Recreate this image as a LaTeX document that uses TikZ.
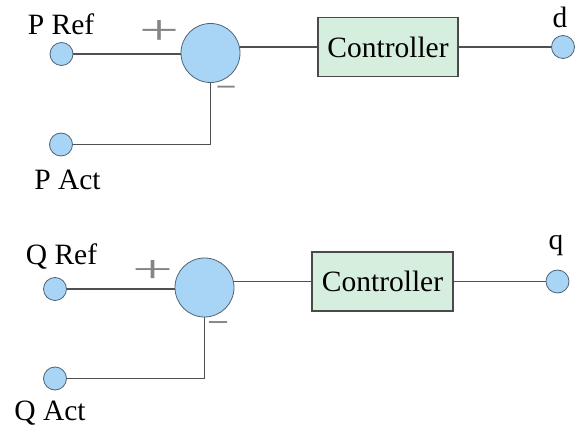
\documentclass[tikz,border=0pt]{standalone}
\usepackage{fontspec}
\setmainfont{Liberation Serif}
\usetikzlibrary{backgrounds}
\definecolor{portfill}{HTML}{A8D4F6}
\definecolor{portline}{HTML}{4F6272}
\definecolor{boxfill}{HTML}{D6EEDE}
\definecolor{boxline}{HTML}{4A4A4A}
\definecolor{wirec}{HTML}{505050}
\definecolor{signc}{HTML}{858585}
\begin{document}
\begin{tikzpicture}[x=1pt,y=-1pt,
  port/.style={circle,draw=portline,fill=portfill,line width=0.8pt,minimum size=23pt,inner sep=0pt},
  sumnode/.style={circle,draw=portline,fill=portfill,line width=0.8pt,minimum size=59pt,inner sep=0pt},
  ctrlbox/.style={draw=boxline,fill=boxfill,line width=1.1pt,minimum width=140pt,minimum height=59pt,inner sep=0pt,font=\fontsize{29.5}{32}\selectfont},
  lbl/.style={font=\fontsize{29.5}{32}\selectfont,inner sep=0pt,anchor=base},
  wire/.style={draw=wirec,line width=1.1pt},
  sign/.style={text=signc,inner sep=0pt}]
\useasboundingbox (0,0) rectangle (578,427);
% ---- P loop
\node[port] (pref) at (61.5,54) {};
\node[lbl] (preflbl) at (61,35) {P Ref};
\node[port] (pact) at (61,144.5) {};
\node[lbl] (pactlbl) at (67.5,190) {P Act};
\node[sumnode] (sumP) at (210.5,53) {};
\node[sign] (plusP) at (159.5,33) {\resizebox{40pt}{24pt}{+}};
\node[sign] (minusP) at (226,93) {\resizebox{21pt}{!}{−}};
\node[ctrlbox] (ctrlP) at (388,47) {Controller};
\node[port] (dport) at (563,47) {};
\node[lbl] (dlbl) at (560,28) {d};
% ---- Q loop
\node[port] (qref) at (55,289) {};
\node[lbl] (qreflbl) at (61.5,265) {Q Ref};
\node[port] (qact) at (55,378.5) {};
\node[lbl] (qactlbl) at (50,420) {Q Act};
\node[sumnode] (sumQ) at (204.5,287.5) {};
\node[sign] (plusQ) at (153.5,271.5) {\resizebox{41pt}{22pt}{+}};
\node[sign] (minusQ) at (218.5,329) {\resizebox{22pt}{!}{−}};
\node[ctrlbox,minimum width=141pt] (ctrlQ) at (382.5,281.5) {Controller};
\node[port] (qport) at (557.5,281.5) {};
\node[lbl] (qlbl) at (556,250) {q};
% ---- wires
\begin{scope}[on background layer]
\draw[wire] (pref.center) -- (sumP.center |- pref.center);
\draw[wire] (pact.center) -- (pact.center -| sumP.center) -- (sumP.center);
\draw[wire] (sumP.center |- ctrlP.west) -- (ctrlP.west);
\draw[wire] (ctrlP.east) -- (dport.center);
\draw[wire] (qref.center) -- (sumQ.center |- qref.center);
\draw[wire] (qact.center) -- (qact.center -| sumQ.center) -- (sumQ.center);
\draw[wire] (sumQ.center |- ctrlQ.west) -- (ctrlQ.west);
\draw[wire] (ctrlQ.east) -- (qport.center);
\end{scope}
\end{tikzpicture}
\end{document}
